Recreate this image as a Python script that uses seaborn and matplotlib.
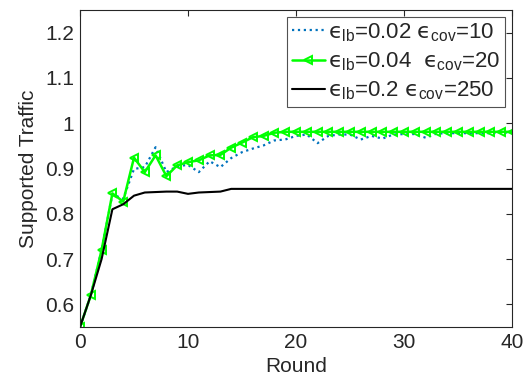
import numpy as np
import pandas as pd
import matplotlib
matplotlib.use("Agg")
import matplotlib.pyplot as plt
import seaborn as sns

rounds = list(range(41))

traffic_lb002 = [0.55, 0.62, 0.72, 0.843, 0.833, 0.899, 0.903, 0.947, 0.892, 0.905,
                 0.908, 0.892, 0.916, 0.903, 0.923, 0.936, 0.944, 0.951, 0.962, 0.964,
                 0.972, 0.975, 0.956, 0.972, 0.975, 0.975, 0.964, 0.972, 0.966, 0.975,
                 0.976, 0.976, 0.968, 0.977, 0.978, 0.978, 0.978, 0.978, 0.978, 0.979,
                 0.980]
traffic_lb004 = [0.55, 0.62, 0.72, 0.845, 0.827, 0.924, 0.892, 0.929, 0.883, 0.907,
                 0.914, 0.918, 0.929, 0.930, 0.946, 0.957, 0.969, 0.972, 0.979, 0.981,
                 0.981, 0.981, 0.981, 0.981, 0.981, 0.981, 0.981, 0.981, 0.981, 0.981,
                 0.981, 0.981, 0.981, 0.981, 0.981, 0.981, 0.981, 0.981, 0.981, 0.981,
                 0.981]
traffic_lb02 = [0.55, 0.62, 0.70, 0.81, 0.821, 0.840, 0.847, 0.848, 0.849, 0.849,
                0.844, 0.847, 0.848, 0.849, 0.855, 0.855, 0.855, 0.855, 0.855, 0.855,
                0.855, 0.855, 0.855, 0.855, 0.855, 0.855, 0.855, 0.855, 0.855, 0.855,
                0.855, 0.855, 0.855, 0.855, 0.855, 0.855, 0.855, 0.855, 0.855, 0.855,
                0.855]

labels = ["$\u03f5_{\\mathrm{lb}}$=0.02 $\u03f5_{\\mathrm{cov}}$=10",
          "$\u03f5_{\\mathrm{lb}}$=0.04  $\u03f5_{\\mathrm{cov}}$=20",
          "$\u03f5_{\\mathrm{lb}}$=0.2 $\u03f5_{\\mathrm{cov}}$=250"]

x_ticks = [0, 10, 20, 30, 40]
y_ticks = [0.6, 0.7, 0.8, 0.9, 1.0, 1.1, 1.2]
y_ticklabels = ["0.6", "0.7", "0.8", "0.9", "1", "1.1", "1.2"]

sns.set_style("white")
plt.rcParams["font.family"] = ["Liberation Sans", "DejaVu Sans"]
plt.rcParams["mathtext.fontset"] = "custom"
plt.rcParams["mathtext.rm"] = "Liberation Sans"
plt.rcParams["mathtext.it"] = "DejaVu Sans"
plt.rcParams["mathtext.fallback"] = "stixsans"

axis_color = "#262626"

fig = plt.figure(figsize=(5.27, 3.83), dpi=100)
ax = fig.add_axes([0.1518, 0.1462, 0.8197, 0.8277])

df = pd.DataFrame({"Round": rounds, "a": traffic_lb002, "b": traffic_lb004, "c": traffic_lb02})

sns.lineplot(data=df, x="Round", y="a", ax=ax, color="#0072BD", linestyle=":",
             linewidth=1.6, label=labels[0])
sns.lineplot(data=df, x="Round", y="b", ax=ax, color="#00FF00", linestyle="-",
             linewidth=1.8, marker="<", markersize=6, markerfacecolor="none",
             markeredgecolor="#00FF00", markeredgewidth=1.4, label=labels[1])
sns.lineplot(data=df, x="Round", y="c", ax=ax, color="black", linestyle="-",
             linewidth=1.5, label=labels[2])

ax.set_xlim(0, 40)
ax.set_ylim(0.55, 1.25)
ax.set_xticks(x_ticks)
ax.set_yticks(y_ticks)
ax.set_yticklabels(y_ticklabels)
ax.tick_params(axis="both", direction="in", length=4, width=0.8, colors=axis_color,
               labelsize=15, top=True, right=True, pad=4)
for s in ax.spines.values():
    s.set_color(axis_color)
    s.set_linewidth(0.8)

ax.set_xlabel("Round", fontsize=15, color=axis_color, labelpad=4)
ax.set_ylabel("Supported Traffic", fontsize=15, color=axis_color, labelpad=5)

leg = ax.legend(loc="upper right", fontsize=16, frameon=True, fancybox=False,
                handlelength=1.5, handletextpad=0.15, borderpad=0.2,
                labelspacing=0.3, borderaxespad=0.3)
leg.get_frame().set_edgecolor(axis_color)
leg.get_frame().set_linewidth(0.8)

fig.savefig("out.png", dpi=100)
